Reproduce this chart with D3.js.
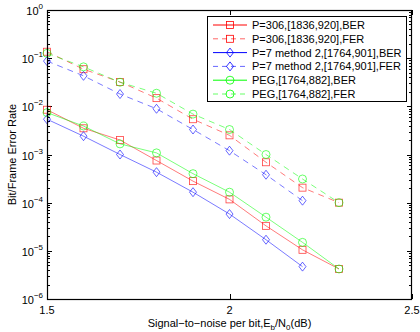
<!DOCTYPE html>
<html lang="en">
<head>
<meta charset="utf-8" />
<title>BER/FER</title>
<script src="https://d3js.org/d3.v7.min.js"></script>
<style>
  body { margin: 0; background: #fff; }
  svg { font-family: "Liberation Sans", Arial, sans-serif; }
</style>
</head>
<body>
<div id="chart"></div>
<script>
var snr = [1.5, 1.6, 1.7, 1.8, 1.9, 2.0, 2.1, 2.2, 2.3];

var p306Ber = [8.5e-3, 3.5e-3, 2.0e-3, 7.5e-4, 2.8e-4, 1.17e-4, 3.3e-5, 1.05e-5, 4.2e-6];
var p306Fer = [0.136, 0.059, 0.032, 0.0148, 5.4e-3, 2.5e-3, 6.9e-4, 2.05e-4, 1.0e-4];
var p7Ber = [5.4e-3, 2.4e-3, 1.0e-3, 4.3e-4, 1.65e-4, 5.8e-5, 1.7e-5, 4.7e-6];
var p7Fer = [0.087, 0.043, 0.018, 8.9e-3, 3.3e-3, 1.2e-3, 3.8e-4, 1.1e-4];
var pegBer = [7.4e-3, 3.9e-3, 1.66e-3, 1.08e-3, 4.0e-4, 1.65e-4, 5.0e-5, 1.5e-5, 4.2e-6];
var pegFer = [0.126, 0.066, 0.0316, 0.0187, 6.9e-3, 3.3e-3, 1.0e-3, 3.1e-4, 1.0e-4];

var seriesNames = [
  'P=306,[1836,920],BER',
  'P=306,[1836,920],FER',
  'P=7 method 2,[1764,901],BER',
  'P=7 method 2,[1764,901],FER',
  'PEG,[1764,882],BER',
  'PEG,[1764,882],FER'
];
var seriesValues = [p306Ber, p306Fer, p7Ber, p7Fer, pegBer, pegFer];
var seriesColors = ['#ff0000', '#ff0000', '#0000ff', '#0000ff', '#00ff00', '#00ff00'];
var seriesMarkers = ['square', 'square', 'diamond', 'diamond', 'circle', 'circle'];
var seriesDashed = [false, true, false, true, false, true];

var xTicks = [1.5, 2, 2.5];
var yExponents = [0, -1, -2, -3, -4, -5, -6];

var width = 420, height = 332;
var margin = { top: 10, right: 8, bottom: 33, left: 47 };

var x = d3.scaleLinear().domain([1.5, 2.5]).range([margin.left, width - margin.right]);
var y = d3.scaleLog().domain([1e-6, 1]).range([height - margin.bottom, margin.top]);

var svg = d3.select('#chart').append('svg')
  .attr('width', width)
  .attr('height', height);

// minor ticks on log axis
var minor = [];
for (var e = -6; e < 0; e++) {
  for (var m = 2; m <= 9; m++) minor.push(m * Math.pow(10, e));
}

var x0 = x.range()[0], x1 = x.range()[1];
var y0 = y.range()[0], y1 = y.range()[1];

var ticks = svg.append('g').attr('stroke', '#000').attr('stroke-width', 1);
minor.forEach(function(v) {
  var yy = Math.round(y(v)) + 0.5;
  ticks.append('line').attr('x1', x0).attr('x2', x0 + 3).attr('y1', yy).attr('y2', yy);
  ticks.append('line').attr('x1', x1).attr('x2', x1 - 3).attr('y1', yy).attr('y2', yy);
});
yExponents.forEach(function(p) {
  var yy = Math.round(y(Math.pow(10, p))) + 0.5;
  ticks.append('line').attr('x1', x0).attr('x2', x0 + 5).attr('y1', yy).attr('y2', yy);
  ticks.append('line').attr('x1', x1).attr('x2', x1 - 5).attr('y1', yy).attr('y2', yy);
});
xTicks.forEach(function(t) {
  var xx = Math.round(x(t)) + 0.5;
  ticks.append('line').attr('x1', xx).attr('x2', xx).attr('y1', y0).attr('y2', y0 - 5);
  ticks.append('line').attr('x1', xx).attr('x2', xx).attr('y1', y1).attr('y2', y1 + 5);
});

// y labels
yExponents.forEach(function(p) {
  var t = svg.append('text')
    .attr('x', x0 - 4)
    .attr('y', y(Math.pow(10, p)) + 5)
    .attr('text-anchor', 'end')
    .style('font-size', '11px');
  t.append('tspan').text('10');
  t.append('tspan').attr('dy', -6).style('font-size', '8px').text(p === 0 ? '0' : '\u2212' + (-p));
});

// x labels
xTicks.forEach(function(t) {
  svg.append('text')
    .attr('x', x(t))
    .attr('y', y0 + 15)
    .attr('text-anchor', 'middle')
    .style('font-size', '11px')
    .text(t);
});

var xl = svg.append('text')
  .attr('x', (x0 + x1) / 2)
  .attr('y', y0 + 28)
  .attr('text-anchor', 'middle')
  .style('font-size', '11px');
xl.append('tspan').text('Signal\u2212to\u2212noise per bit,E');
xl.append('tspan').attr('dy', 3).style('font-size', '8px').text('b');
xl.append('tspan').attr('dy', -3).text('/N');
xl.append('tspan').attr('dy', 3).style('font-size', '8px').text('0');
xl.append('tspan').attr('dy', -3).text('(dB)');

svg.append('text')
  .attr('transform', 'translate(16,' + ((y0 + y1) / 2) + ') rotate(-90)')
  .attr('text-anchor', 'middle')
  .style('font-size', '11px')
  .text('Bit/Frame Error Rate');

function drawMarker(g, kind, cx, cy, color, op) {
  var el;
  if (kind === 'square') {
    el = g.append('rect').attr('x', cx - 3.5).attr('y', cy - 3.5).attr('width', 7).attr('height', 7);
  } else if (kind === 'circle') {
    el = g.append('circle').attr('cx', cx).attr('cy', cy).attr('r', 4);
  } else {
    el = g.append('path').attr('d', 'M' + cx + ',' + (cy - 4.5) + 'L' + (cx + 3.5) + ',' + cy +
      'L' + cx + ',' + (cy + 4.5) + 'L' + (cx - 3.5) + ',' + cy + 'Z');
  }
  el.attr('fill', 'none').attr('stroke', color).attr('stroke-width', 0.8)
    .attr('stroke-opacity', op);
}

var line = d3.line()
  .x(function(d) { return x(d[0]); })
  .y(function(d) { return y(d[1]); });

var plot = svg.append('g');
seriesValues.forEach(function(vals, i) {
  var pts = vals.map(function(v, j) { return [snr[j], v]; });
  var g = plot.append('g');
  g.append('path')
    .attr('d', line(pts))
    .attr('fill', 'none')
    .attr('stroke', seriesColors[i])
    .attr('stroke-width', 0.7)
    .attr('stroke-opacity', 0.75)
    .attr('stroke-dasharray', seriesDashed[i] ? '6,5' : null);
  pts.forEach(function(p) {
    drawMarker(g, seriesMarkers[i], x(p[0]), y(p[1]), seriesColors[i], 0.75);
  });
});

// frame
svg.append('rect')
  .attr('x', x0 + 0.5).attr('y', y1 + 0.5)
  .attr('width', x1 - x0 - 1).attr('height', y0 - y1)
  .attr('fill', 'none').attr('stroke', '#000').attr('stroke-width', 1.2);

// legend
var legend = svg.append('g').attr('transform', 'translate(207,16)');
legend.append('rect')
  .attr('x', 0.5).attr('y', 0.5).attr('width', 199).attr('height', 85)
  .attr('fill', '#fff').attr('stroke', '#000').attr('stroke-width', 1);
seriesNames.forEach(function(name, i) {
  var ly = 9 + i * 13.8;
  var row = legend.append('g');
  row.append('line')
    .attr('x1', 6).attr('x2', 40).attr('y1', ly).attr('y2', ly)
    .attr('stroke', seriesColors[i]).attr('stroke-width', 1)
    .attr('stroke-opacity', seriesDashed[i] ? 0.6 : 1)
    .attr('stroke-dasharray', seriesDashed[i] ? '5,4' : null);
  drawMarker(row, seriesMarkers[i], 23, ly, seriesColors[i], 1);
  row.append('text')
    .attr('x', 45).attr('y', ly + 4)
    .style('font-size', '11px')
    .text(name);
});
</script>
</body>
</html>
